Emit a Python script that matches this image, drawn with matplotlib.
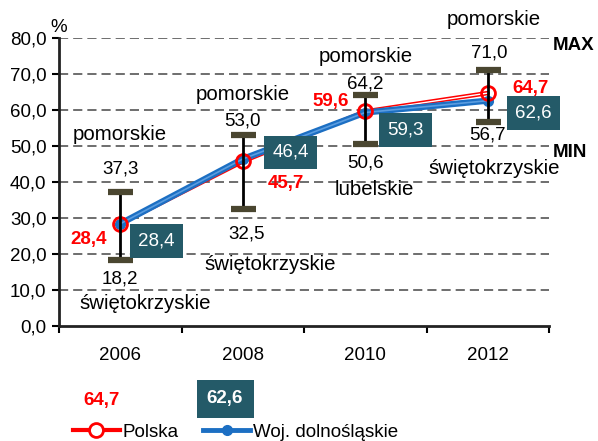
import matplotlib
matplotlib.use("Agg")
import matplotlib.pyplot as plt
from matplotlib.lines import Line2D
from matplotlib.ticker import FixedLocator, FuncFormatter

plt.rcParams["font.family"] = ["Liberation Sans", "DejaVu Sans"]
plt.rcParams["font.size"] = 13.5

# ---- dane ----
years = ["2006", "2008", "2010", "2012"]
polska = [28.4, 45.7, 59.6, 64.7]
dolnoslaskie = [28.4, 46.4, 59.3, 62.6]
max_vals = [37.3, 53.0, 64.2, 71.0]
max_woj = ["pomorskie", "pomorskie", "pomorskie", "pomorskie"]
min_vals = [18.2, 32.5, 50.6, 56.7]
min_woj = ["świętokrzyskie", "świętokrzyskie", "lubelskie", "świętokrzyskie"]


def fmt(v):
    return f"{v:.1f}".replace(".", ",")


RED = "#ff0000"
BLUE = "#1c6fc3"
BOX = "#245a68"
CAP = "#4a4630"
WOJ_FS = 14.7   # nazwy województw sa nieco szersze

fig = plt.figure(figsize=(5.98, 4.41), dpi=100)
ax = fig.add_axes([59 / 598, 1 - 326 / 441, 490 / 598, 288 / 441])

x = list(range(len(years)))

# linie
ax.plot(x, polska, color=RED, lw=3.2, zorder=3, solid_capstyle="round")
ax.plot(x, polska, color="white", lw=1.0, zorder=3.1)
ax.plot(x, dolnoslaskie, color=BLUE, lw=4.5, zorder=4, marker="o", ms=7,
        mfc=BLUE, mec=BLUE)
ax.plot(x, dolnoslaskie, color="#5b9de0", lw=1.2, zorder=4.1)
ax.plot(x, polska, ls="none", marker="o", ms=10, mfc="none", mec=RED,
        mew=2, zorder=5)

# min / max
ax.vlines(x, min_vals, max_vals, color="black", lw=2, zorder=6)
ax.plot(x, max_vals, ls="none", marker="_", ms=18, mew=4.5, color=CAP, zorder=6)
ax.plot(x, min_vals, ls="none", marker="_", ms=18, mew=4.5, color=CAP, zorder=6)

# opisy max / min
max_val_pos = [(0, 42.5), (1, 55.6), (2, 66.1), (3.01, 74.7)]
max_woj_pos = [(0, 51.7), (1, 62.8), (2.0, 73.3), (3.05, 83.6)]
min_val_pos = [(0, 11.7), (1.03, 24.4), (2.0, 43.9), (3.0, 51.7)]
min_woj_pos = [(0.206, 4.7), (1.22, 15.6), (2.07, 36.4), (3.05, 42.2)]
for i in range(len(years)):
    ax.text(*max_val_pos[i], fmt(max_vals[i]), ha="center", va="baseline", clip_on=False)
    ax.text(*max_woj_pos[i], max_woj[i], ha="center", va="baseline", clip_on=False,
            fontsize=WOJ_FS)
    ax.text(*min_val_pos[i], fmt(min_vals[i]), ha="center", va="baseline", clip_on=False)
    ax.text(*min_woj_pos[i], min_woj[i], ha="center", va="baseline", clip_on=False,
            fontsize=WOJ_FS)

# etykiety serii
pl_pos = [(-0.255, 22.8), (1.35, 38.3), (1.72, 61.1), (3.353, 64.7)]
for (px, py), v in zip(pl_pos, polska):
    ax.text(px, py, fmt(v), color=RED, fontweight="bold", ha="center",
            va="baseline", clip_on=False, zorder=7)
ds_pos = [(0.293, 23.6), (1.39, 48.2), (2.33, 54.4), (3.37, 59.2)]
for (px, py), v in zip(ds_pos, dolnoslaskie):
    ax.text(px, py, fmt(v), color="white", ha="center", va="center", clip_on=False,
            zorder=7, bbox=dict(boxstyle="square,pad=0.44", fc=BOX, ec="none"))

ax.text(3.533, 76.7, "MAX", fontweight="bold", ha="left", va="baseline", clip_on=False)
ax.text(3.533, 46.9, "MIN", fontweight="bold", ha="left", va="baseline", clip_on=False)
ax.text(-0.5, 81.7, "%", ha="center", va="baseline", clip_on=False)

# osie
ax.set_xlim(-0.5, 3.5)
ax.set_ylim(0, 80)
ax.set_yticks(range(0, 81, 10))
ax.yaxis.set_major_formatter(FuncFormatter(lambda v, p: fmt(v)))
ax.set_xticks(x)
ax.set_xticklabels(years)
ax.xaxis.set_minor_locator(FixedLocator([-0.5, 0.5, 1.5, 2.5, 3.5]))
ax.tick_params(axis="x", which="major", length=0, pad=15)
ax.tick_params(axis="x", which="minor", length=5, width=1.5, direction="out")
ax.tick_params(axis="y", length=5, width=1.5, pad=4)
for s in ["top", "right"]:
    ax.spines[s].set_visible(False)
for s in ["left", "bottom"]:
    ax.spines[s].set_linewidth(2)
    ax.spines[s].set_color("#222222")
for yv in range(10, 81, 10):
    ax.axhline(yv, color="#555555", lw=1.2, ls=(0, (5.5, 3)), zorder=1)

# legenda
fig.text(102 / 598, 1 - 401 / 441, fmt(polska[-1]), color=RED, fontweight="bold",
         ha="center", va="center")
fig.text(225 / 598, 1 - 399 / 441, fmt(dolnoslaskie[-1]), color="white",
         fontweight="bold", ha="center", va="center",
         bbox=dict(boxstyle="square,pad=0.55", fc=BOX, ec="none"))
handles = [
    Line2D([], [], color=RED, lw=3, marker="o", ms=10, mfc="white", mec=RED, mew=2),
    Line2D([], [], color=BLUE, lw=3.5, marker="o", ms=7, mfc=BLUE, mec=BLUE),
]
fig.legend(handles, ["Polska", "Woj. dolnośląskie"], loc="center left",
           bbox_to_anchor=(73 / 598, 1 - 432 / 441), ncol=2, frameon=False,
           borderpad=0, borderaxespad=0, handlelength=2.5, handletextpad=0.15,
           columnspacing=1.3)

fig.savefig("out.png", dpi=100)
